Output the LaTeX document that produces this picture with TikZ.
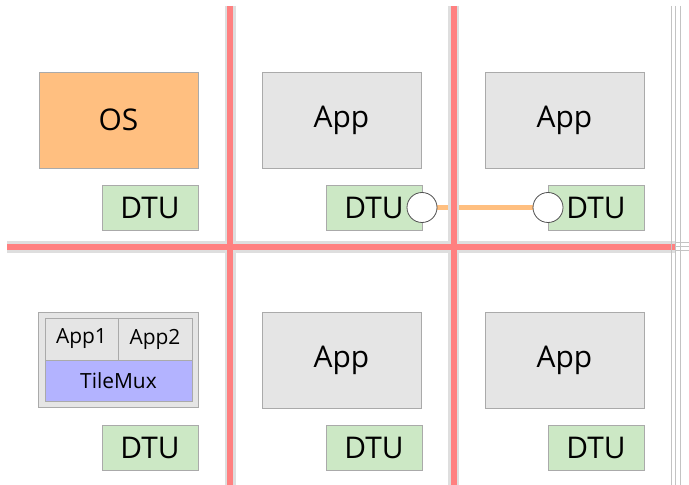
\documentclass[tikz,border=0pt]{standalone}
\usepackage{fontspec}
\setmainfont{Open Sans}
\usetikzlibrary{backgrounds}
\definecolor{osor}{RGB}{255,191,128}
\definecolor{dtugreen}{RGB}{204,232,197}
\definecolor{appgray}{RGB}{229,229,229}
\definecolor{muxblue}{RGB}{179,179,255}
\definecolor{netred}{RGB}{255,128,128}
\definecolor{netgray}{RGB}{222,222,222}
\definecolor{edgegray}{RGB}{170,170,170}
\definecolor{ringgray}{RGB}{80,80,80}
\begin{document}
\begin{tikzpicture}[x=1bp,y=-1bp,
  box/.style={draw=edgegray, line width=0.8bp, inner sep=0pt, font=\fontsize{30}{33}\selectfont},
  bigbox/.style={box, minimum width=159bp, minimum height=96bp},
  appbox/.style={bigbox, fill=appgray},
  osbox/.style={bigbox, fill=osor},
  dtubox/.style={box, fill=dtugreen, minimum width=96bp, minimum height=45bp},
  smallbox/.style={box, fill=appgray, font=\fontsize{21}{24}\selectfont, minimum height=42bp},
  muxbox/.style={box, fill=muxblue, font=\fontsize{21}{24}\selectfont, minimum width=147bp, minimum height=41bp},
  port/.style={circle, draw=ringgray, fill=white, line width=0.8bp, minimum size=30bp, inner sep=0pt},
  link/.style={draw=osor, line width=5bp},
  netout/.style={draw=netgray, line width=11bp},
  netin/.style={draw=netred, line width=6bp},
  edgeline/.style={draw=edgegray!70, line width=1bp}
]
\useasboundingbox (0,0) rectangle (689,485);
% network lines
\path[netout] (7,247) -- (676,247);
\path[netout] (230,6) -- (230,485);
\path[netout] (453.5,6) -- (453.5,485);
\path[netin] (7,247) -- (676,247);
\path[netin] (230,6) -- (230,485);
\path[netin] (453.5,6) -- (453.5,485);
% right edge
\foreach \xx in {671.5,675.5,680.5} \path[edgeline] (\xx,6) -- (\xx,485);
\foreach \yy in {243,247,251} \path[edgeline] (676,\yy) -- (689,\yy);
% top row
\node[osbox] (os) at (118.5,120) {OS};
\node[dtubox] (dtu1) at (150,207.5) {DTU};
\node[appbox] (app2) at (341.5,120) {App};
\node[dtubox] (dtu2) at (374,207.5) {DTU};
\node[appbox] (app3) at (564.5,120) {App};
\node[dtubox] (dtu3) at (596,207.5) {DTU};
% bottom row
\node[bigbox, fill=appgray, minimum width=160bp, minimum height=95bp] (cont) at (118.5,360) {};
\node[smallbox, minimum width=73bp] (app1a) at (81.5,339) {App1};
\node[smallbox, minimum width=74bp] (app1b) at (155,339) {App2};
\node[muxbox] (mux) at (118.5,380.5) {TileMux};
\node[dtubox] (dtu4) at (150,447.5) {DTU};
\node[appbox] (app5) at (341.5,360) {App};
\node[dtubox] (dtu5) at (374,447.5) {DTU};
\node[appbox] (app6) at (564.5,360) {App};
\node[dtubox] (dtu6) at (596,447.5) {DTU};
% ports and link
\node[port] (p1) at (422,207.5) {};
\node[port] (p2) at (548,207.5) {};
\begin{scope}[on background layer]
\path[link] (p1) -- (p2);
\end{scope}
\end{tikzpicture}
\end{document}
